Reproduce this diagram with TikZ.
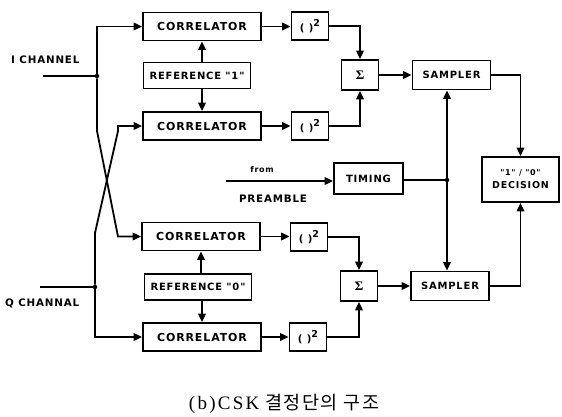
\documentclass[tikz,border=0pt]{standalone}
\usepackage{fontspec}
\setmainfont{DejaVu Sans}
\newfontfamily\boxfont[LetterSpace=8]{DejaVu Sans}
\newfontfamily\sigmafont{Liberation Serif}
\newfontfamily\capfont[LetterSpace=12]{Liberation Serif}
\newfontfamily\krfont[LetterSpace=8]{Noto Sans CJK KR}
\usetikzlibrary{arrows.meta}

\tikzset{
  wire/.style={line width=1.8pt},
  arr/.style={wire, -{Triangle[length=8.5pt,width=7.5pt]}},
  blk/.style={draw, line width=1.7pt, inner sep=0pt,
    font=\boxfont\bfseries\fontsize{10}{12}\selectfont},
  corr/.style={blk, minimum width=118pt, minimum height=28pt,
    font=\boxfont\bfseries\fontsize{11}{12}\selectfont},
  refbox/.style={blk, minimum width=107pt, minimum height=26pt},
  sqbox/.style={blk, minimum width=37pt, minimum height=28pt},
  sumbox/.style={blk, minimum width=37pt, minimum height=30pt},
  sampbox/.style={blk, minimum width=78pt, minimum height=29pt},
  lbl/.style={inner sep=0pt, font=\boxfont\bfseries\fontsize{10.3}{12}\selectfont},
  jdot/.style={circle, fill, inner sep=0pt, minimum size=4.5pt}
}

\newcommand{\sqlabel}{( )\raisebox{0.9ex}{\fontsize{9.5}{10}\selectfont 2}}
\newcommand{\sumlabel}{{\sigmafont\bfseries\fontsize{13}{13}\selectfont Σ}}

\begin{document}
\begin{tikzpicture}[x=1pt, y=-1pt]
\useasboundingbox (0,0) rectangle (562,417);

% correlators and references
\node[corr] (c1) at (202,26.5) {CORRELATOR};
\node[refbox] (r1) at (197,75.5) {REFERENCE "1"};
\node[corr] (c2) at (202,126) {CORRELATOR};
\node[corr] (c3) at (201,236.5) {CORRELATOR};
\node[refbox] (r0) at (198,287) {REFERENCE "0"};
\node[corr] (c4) at (202,337) {CORRELATOR};

% squarers
\node[sqbox] (q1) at (310,26) {\sqlabel};
\node[sqbox] (q2) at (310,126) {\sqlabel};
\node[sqbox] (q3) at (309,237) {\sqlabel};
\node[sqbox] (q4) at (308,337) {\sqlabel};

% summers
\node[sumbox] (s1) at (360,75) {\sumlabel};
\node[sumbox] (s2) at (359,286) {\sumlabel};

% samplers, timing, decision
\node[sampbox] (p1) at (451.5,75) {SAMPLER};
\node[sampbox] (p2) at (450,286) {SAMPLER};
\node[blk, minimum width=69pt, minimum height=31pt] (tm) at (368.5,178.5) {TIMING};
\node[blk, minimum width=77pt, minimum height=45pt, align=center,
      font=\boxfont\bfseries\fontsize{9.5}{13}\selectfont] (dec) at (520.5,179.5)
      {{\fontsize{8}{10}\selectfont"1" / "0"}\\DECISION};

% input labels and junctions
\node[lbl, anchor=west] at (11,60) {I CHANNEL};
\node[lbl, anchor=west] at (5,303) {Q CHANNAL};
\coordinate (iin) at (43,76);
\coordinate (qin) at (40,287);
\node[jdot] (ij) at (97,76) {};
\node[jdot] (qj) at (95,287) {};

\draw[wire] (iin) -- (ij);
\draw[wire] (qin) -- (qj);
\draw[arr] (ij) |- (c1.west);
\draw[arr] (qj) |- (c4.west);
\coordinate (ib) at (97,131);
\coordinate (ic) at (118,236.5);
\draw[arr] (ij) -- (ib) -- (ic) -- (c3.west);
\coordinate (qb) at (95,233);
\coordinate (qc) at (118,131);
\draw[arr] (qj) -- (qb) -- (qc) -- (qc |- c2.west) -- (c2.west);

% reference to correlators
\draw[arr] (r1.north -| c1.south) -- (c1.south);
\draw[arr] (r1.south -| c2.north) -- (c2.north);
\draw[arr] (r0.north -| c3.south) -- (c3.south);
\draw[arr] (r0.south -| c4.north) -- (c4.north);

% correlators to squarers
\draw[arr] (c1.east) -- (q1.west |- c1.east);
\draw[arr] (c2.east) -- (q2.west |- c2.east);
\draw[arr] (c3.east) -- (q3.west |- c3.east);
\draw[arr] (c4.east) -- (q4.west |- c4.east);

% squarers to summers
\draw[arr] (q1.east) -| (s1.north);
\draw[arr] (q2.east) -| (s1.south);
\draw[arr] (q3.east) -| (s2.north);
\draw[arr] (q4.east) -| (s2.south);

% summers to samplers
\draw[arr] (s1.east) -- (p1.west |- s1.east);
\draw[arr] (s2.east) -- (p2.west |- s2.east);

% samplers to decision
\draw[arr] (p1.east) -| (dec.north);
\draw[arr] (p2.east) -| (dec.south);

% timing distribution
\node[jdot] (tj) at (447,180) {};
\draw[wire] (tm.east |- tj) -- (tj);
\draw[arr] (tj) -- (tj |- p1.south);
\draw[arr] (tj) -- (tj |- p2.north);

% preamble input
\coordinate (pre) at (226,181);
\draw[arr] (pre) -- (tm.west |- pre);
\node[inner sep=0pt, font=\boxfont\bfseries\fontsize{8}{10}\selectfont] at (262,170) {from};
\node[lbl] at (273,199) {PREAMBLE};

% caption
\node at (284,404) {\capfont\fontsize{19}{21}\selectfont (b)CSK\hspace{6pt}\krfont\fontsize{18.5}{21}\selectfont 결정단의 구조};
\end{tikzpicture}
\end{document}
